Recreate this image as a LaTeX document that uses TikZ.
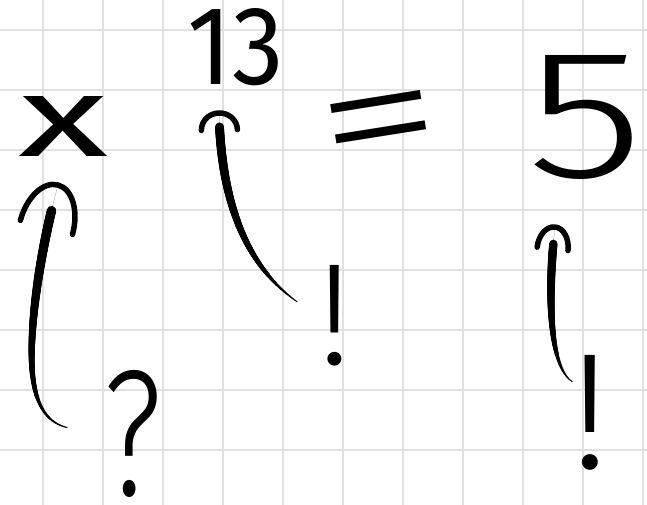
\documentclass[tikz,border=0pt]{standalone}
\usepackage{fontspec}
\usepackage{graphicx}
\usetikzlibrary{arrows.meta,decorations.markings,calc}
\IfFontExistsTF{Fira Sans}{\newfontfamily\handfont{Fira Sans}}{\newfontfamily\handfont{Liberation Sans}}
\IfFontExistsTF{Fira Sans Book}{\newfontfamily\handthin{Fira Sans Book}}{%
  \IfFontExistsTF{Fira Sans Light}{\newfontfamily\handthin{Fira Sans Light}}{\newfontfamily\handthin{Liberation Sans}}}
\definecolor{gridgray}{RGB}{224,224,224}
% an open arch used as the arrow head
\pgfdeclarearrow{
  name = Arch,
  parameters = {\the\pgfarrowlength,\the\pgfarrowwidth},
  setup code = {
    \pgfarrowssettipend{0pt}
    \pgfarrowssetlineend{0pt}
    \pgfarrowssetbackend{-\pgfarrowlength}
    \pgfarrowssavethe\pgfarrowlength
    \pgfarrowssavethe\pgfarrowwidth
  },
  drawing code = {
    \pgfsetlinewidth{5.5pt}
    \pgfsetroundcap
    \pgfsetroundjoin
    \pgfsetdash{}{0pt}
    \pgfpathmoveto{\pgfqpoint{-\pgfarrowlength}{.5\pgfarrowwidth}}
    \pgfpathcurveto{\pgfqpoint{-.45\pgfarrowlength}{.5\pgfarrowwidth}}{\pgfqpoint{0pt}{.28\pgfarrowwidth}}{\pgfqpoint{0pt}{0pt}}
    \pgfpathcurveto{\pgfqpoint{0pt}{-.28\pgfarrowwidth}}{\pgfqpoint{-.45\pgfarrowlength}{-.5\pgfarrowwidth}}{\pgfqpoint{-\pgfarrowlength}{-.5\pgfarrowwidth}}
    \pgfusepathqstroke
  },
  defaults = {length=20pt, width=40pt}
}
\tikzset{
  gridline/.style={draw=gridgray, line width=1.6pt},
  glyph/.style={inner sep=0pt, outer sep=0pt, anchor=south, font=\handfont, text=black},
  thinglyph/.style={glyph, font=\handthin},
  taper/.style n args={2}{%
    postaction={decorate, decoration={markings,
      mark=between positions 0 and 1 step 0.7pt with {%
        \pgfmathsetmacro\tdist{\pgfkeysvalueof{/pgf/decoration/mark info/distance from start}}%
        \pgfmathsetmacro\tlen{\pgfdecoratedpathlength}%
        \pgfmathsetmacro\tfr{\tdist/(\tlen-#1)}%
        \pgfmathsetmacro\trad{(\tfr<1) ? (0.6+(#2-0.6)*\tfr*(2-\tfr)) : 0}%
        \ifdim\trad pt>0pt \fill[black] (0,0) circle[radius=\trad pt];\fi
      }}}},
  conn/.style n args={4}{line width=0.01pt, draw=black,
    -{Arch[length=#1, width=#2]},
    taper={#3}{#4}}
}
\begin{document}
\begin{tikzpicture}[x=1pt, y=-1pt]
  \fill[white] (0,0) rectangle (647,505);
  \useasboundingbox (0,0) rectangle (647,505);
  % grid
  \foreach \gx in {43,103,...,643} \draw[gridline] (\gx,0) -- (\gx,505);
  \foreach \gy in {30,90,...,450} \draw[gridline] (0,\gy) -- (647,\gy);
  % symbols
  \node[glyph] (nx) at (64,157) {\resizebox{90pt}{60pt}{x}};
  \node[glyph] (n13) at (236,86) {\resizebox{96pt}{76pt}{13}};
  \node[thinglyph, anchor=center, rotate=9] (neq) at (382,136) {\resizebox{126pt}{78pt}{=}};
  \node[thinglyph] (n5) at (586,180) {\resizebox{118pt}{122pt}{5}};
  \node[thinglyph] (nq) at (133,497) {\resizebox{59pt}{125pt}{?}};
  \node[thinglyph] (nb1) at (335,366) {\resizebox{!}{99pt}{!}};
  \node[thinglyph] (nb2) at (590,470) {\resizebox{!}{113pt}{!}};
  % connector ends
  \coordinate (s1) at ($(nq.center)+(-66,-6)$);
  \coordinate (t1) at ($(nx.south)+(-6,28)$);
  \coordinate (s2) at ($(nb1.center)+(-38,-14)$);
  \coordinate (t2) at ($(n13.south)+(-17,27)$);
  \coordinate (s3) at ($(nb2.center)+(-18,-31)$);
  \coordinate (t3) at ($(n5.south)+(-31,47)$);
  % connectors
  \draw[conn={44pt}{54pt}{27}{4.7}] (s1) .. controls (35,420) and (30,380) .. (32,340)
        .. controls (34,290) and (46,229) .. (t1);
  \draw[conn={17pt}{36pt}{15}{4.5}] (s2) .. controls (245,265) and (221,200) .. (t2);
  \draw[conn={22pt}{31pt}{17}{4.2}] (s3) .. controls (548,365) and (548,290) .. (t3);
\end{tikzpicture}
\end{document}
